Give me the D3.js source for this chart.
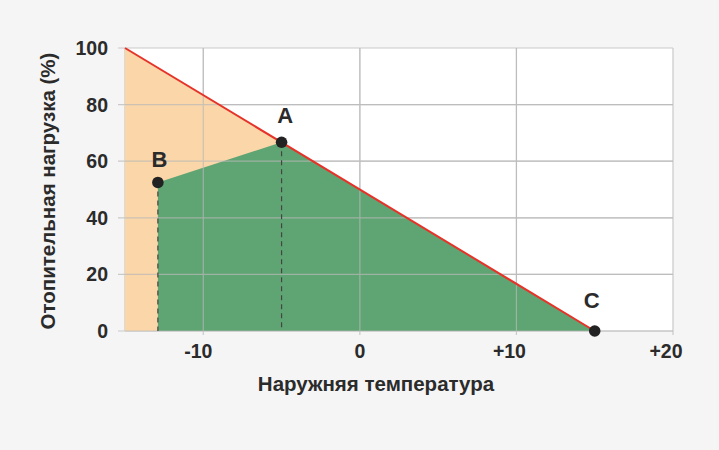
<!DOCTYPE html>
<html><head><meta charset="utf-8">
<script src="https://cdn.jsdelivr.net/npm/d3@7"></script>
<style>
html,body{margin:0;padding:0;background:#f5f5f5;}
svg{display:block;}
text{font-family:"Liberation Sans",Arial,sans-serif;font-weight:bold;fill:#2b2b2b;}
</style></head>
<body><svg id="c" width="719" height="450"></svg>
<script>
const xTicks = [-10, 0, 10, 20];
const xTickLabels = ["-10", "0", "+10", "+20"];
const yTicks = [0, 20, 40, 60, 80, 100];
const loadLine = [[-15, 100], [15, 0]];
const greenArea = [[-12.9, 0], [-12.9, 52.5], [-5, 66.7], [15, 0]];
const points = [{name: "A", t: -5, v: 66.7}, {name: "B", t: -12.9, v: 52.5}, {name: "C", t: 15, v: 0}];
const xTitle = "Наружняя температура";
const yTitle = "Отопительная нагрузка (%)";

const svg = d3.select("#c");
const L = 125, R = 673, T = 48, B = 331;
const x = d3.scaleLinear().domain([-15, 20]).range([L, R]);
const y = d3.scaleLinear().domain([0, 100]).range([B, T]);

svg.append("rect").attr("x", L).attr("y", T).attr("width", R - L).attr("height", B - T).attr("fill", "#fff");

// grid
const grid = svg.append("g").attr("stroke", "#c9c9c9").attr("stroke-width", 1.2);
yTicks.forEach(v => grid.append("line").attr("x1", L - 7).attr("x2", R).attr("y1", y(v)).attr("y2", y(v)));
xTicks.forEach(v => grid.append("line").attr("x1", x(v)).attr("x2", x(v)).attr("y1", T).attr("y2", B + 4));
grid.append("line").attr("x1", L).attr("x2", L).attr("y1", T).attr("y2", B);

// fills
const line = d3.line().x(d => x(d[0])).y(d => y(d[1]));
svg.append("path").attr("d", line([[-15, 0], ...loadLine]) + "Z").attr("fill", "#fad6a8");
svg.append("path").attr("d", line(greenArea) + "Z").attr("fill", "#5fa573");

// grid over fills
const grid2 = svg.append("g").attr("stroke", "#b9b9b9").attr("stroke-width", 1.2).attr("opacity", 0.7);
yTicks.filter(v => v > 0 && v < 100).forEach(v => grid2.append("line").attr("x1", L).attr("x2", R).attr("y1", y(v)).attr("y2", y(v)));
xTicks.filter(v => v < 20).forEach(v => grid2.append("line").attr("x1", x(v)).attr("x2", x(v)).attr("y1", T).attr("y2", B));
grid2.append("line").attr("x1", L).attr("x2", R).attr("y1", B).attr("y2", B);

// dashed drops
points.filter(p => p.v > 0).forEach(p => {
  svg.append("line").attr("x1", x(p.t)).attr("x2", x(p.t)).attr("y1", y(p.v)).attr("y2", B)
    .attr("stroke", "#444").attr("stroke-width", 1.2).attr("stroke-dasharray", "5,4");
});

// red line
svg.append("path").attr("d", line(loadLine)).attr("stroke", "#e5332a").attr("stroke-width", 2).attr("fill", "none");

// points and labels
const lblOff = {A: [3.5, -19], B: [1.5, -15], C: [-3, -23]};
points.forEach(p => {
  svg.append("circle").attr("cx", x(p.t)).attr("cy", y(p.v)).attr("r", 5.8).attr("fill", "#222");
  svg.append("text").attr("x", x(p.t) + lblOff[p.name][0]).attr("y", y(p.v) + lblOff[p.name][1])
    .attr("text-anchor", "middle").attr("font-size", 22).text(p.name);
});

// tick labels
yTicks.forEach(v => svg.append("text").attr("x", 108).attr("y", y(v) + 7).attr("text-anchor", "end").attr("font-size", 19.5).text(v));
xTicks.forEach((v, i) => svg.append("text").attr("x", x(v) - (v > 0 ? 7 : v < 0 ? 5 : 0)).attr("y", 358).attr("text-anchor", "middle").attr("font-size", 19.5).text(xTickLabels[i]));

// titles
svg.append("text").attr("x", 376).attr("y", 391).attr("text-anchor", "middle").attr("font-size", 20.5).text(xTitle);
svg.append("text").attr("transform", "translate(55,191) rotate(-90)").attr("text-anchor", "middle").attr("font-size", 20.5).text(yTitle);
</script></body></html>
